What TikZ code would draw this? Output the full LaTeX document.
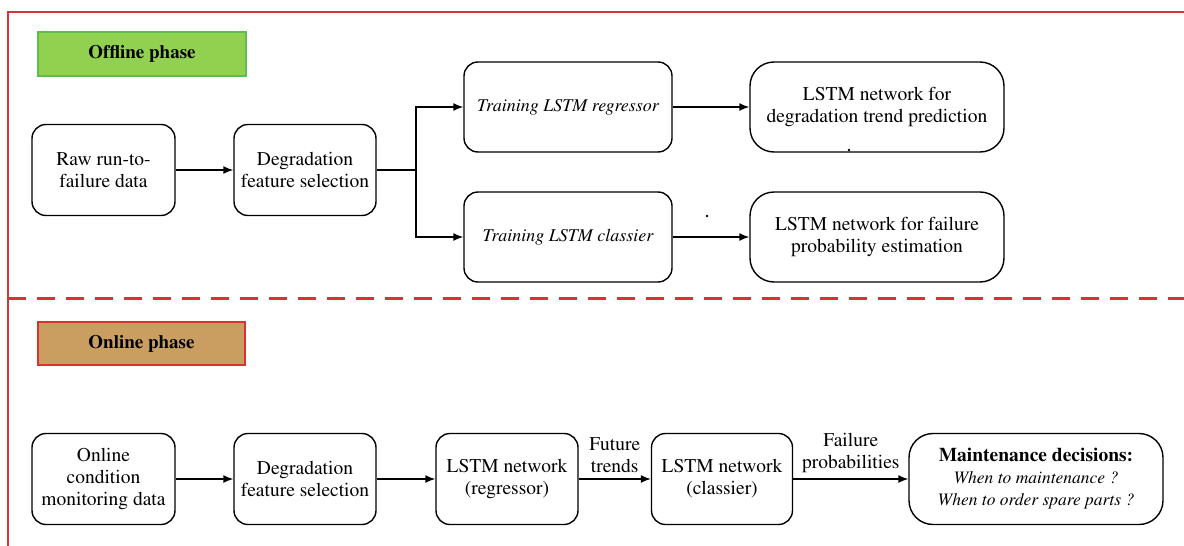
\documentclass[tikz,border=0pt]{standalone}
\usepackage[T1]{fontenc}
\usepackage{times}
\usetikzlibrary{arrows.meta}
\definecolor{framered}{RGB}{214,50,56}
\definecolor{offgreen}{RGB}{146,208,80}
\definecolor{offgreenline}{RGB}{90,190,80}
\definecolor{ontan}{RGB}{201,158,96}
\tikzset{
  stepbox/.style={draw, line width=1.4pt, rounded corners=14pt, align=center, inner sep=0pt,
    font=\fontsize{19.5}{22}\selectfont, minimum height=91pt},
  widebox/.style={stepbox, rounded corners=24pt, minimum width=254pt},
  itbox/.style={stepbox, minimum width=208pt, font=\fontsize{18}{22}\selectfont\itshape},
  phasebox/.style={draw, line width=1.2pt, font=\fontsize{19}{22}\selectfont\bfseries, inner sep=0pt},
  arr/.style={line width=1.4pt, -{Latex[length=10pt,width=8pt]}},
  lbl/.style={align=center, font=\fontsize{19.5}{22}\selectfont, inner sep=0pt}
}
\begin{document}
\begin{tikzpicture}[x=1pt,y=-1pt]
\useasboundingbox (0,0) rectangle (1184,546);
% frame
\draw[framered, line width=2.6pt] (8,546) -- (8,12) -- (1184,12);
\draw[framered, line width=3pt, dash pattern=on 18pt off 11pt] (8,298) -- (1184,298);
% phase labels
\node[phasebox, draw=offgreenline, fill=offgreen, minimum width=208pt, minimum height=44pt] (offph) at (142,54) {Offline phase};
\node[phasebox, draw=framered, fill=ontan, minimum width=207pt, minimum height=43pt] (onph) at (141.5,343.5) {Online phase};
% offline row
\node[stepbox, minimum width=143pt] (raw) at (103.5,170) {Raw run-to-\\failure data};
\node[stepbox, minimum width=142pt] (deg1) at (305,170) {Degradation\\feature selection};
\node[itbox, minimum height=90pt] (treg) at (568,107) {Training LSTM regressor};
\node[itbox, minimum height=90pt] (tcls) at (568,237) {Training LSTM classier};
\node[widebox, minimum height=90pt] (lreg) at (877,107) {LSTM network for\\degradation trend prediction};
\node[widebox, minimum height=90pt] (lcls) at (877,237) {LSTM network for failure\\probability estimation};
\coordinate (br) at (416,170);
\draw[arr] (raw) -- (deg1);
\draw[line width=1.4pt] (deg1.east) -- (br);
\draw[arr] (br) |- (treg.west);
\draw[arr] (br) |- (tcls.west);
\draw[arr] (treg) -- (lreg);
\draw[arr] (tcls) -- (lcls);
\fill (849,150) circle (1.3pt);
\fill (707,216) circle (1.3pt);
% online row
\node[stepbox, minimum width=143pt] (onl) at (103.5,479) {Online\\condition\\monitoring data};
\node[stepbox, minimum width=142pt] (deg2) at (305,479) {Degradation\\feature selection};
\node[stepbox, minimum width=142pt] (lr) at (507,479) {LSTM network\\(regressor)};
\node[stepbox, minimum width=141pt] (lc) at (722,479) {LSTM network\\(classier)};
\node[widebox, minimum height=91pt] (mnt) at (1036,479) {\textbf{Maintenance decisions:}\\{\fontsize{17.5}{22}\selectfont\itshape When to maintenance ?}\\{\fontsize{17.5}{22}\selectfont\itshape When to order spare parts ?}};
\draw[arr] (onl) -- (deg2);
\draw[arr] (deg2) -- (lr);
\draw[arr] (lr) -- node[lbl, above=6pt] (ft) {Future\\trends} (lc);
\draw[arr] (lc) -- node[lbl, above=6pt] (fp) {Failure\\probabilities} (mnt);
\end{tikzpicture}
\end{document}
